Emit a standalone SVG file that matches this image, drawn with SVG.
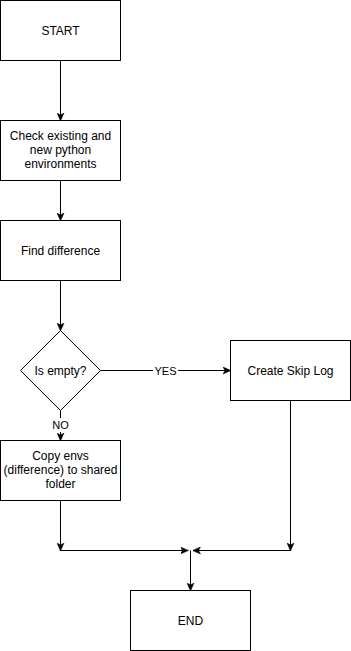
<svg xmlns="http://www.w3.org/2000/svg" width="351" height="651" viewBox="0 0 351 651">
<defs>
<marker id="arr" viewBox="0 0 8 8" refX="7.5" refY="4" markerWidth="8" markerHeight="8" markerUnits="userSpaceOnUse" orient="auto">
<path d="M0,0.5 L8,4 L0,7.5 L2,4 Z" fill="#000" stroke="#000" stroke-width="0.5"/>
</marker>
</defs>
<style>
.box{fill:#fff;stroke:#000;stroke-width:1}
.t{font-family:"Liberation Sans",Arial,Helvetica,sans-serif;font-size:12px;fill:#000;text-anchor:middle}
.e{fill:none;stroke:#000;stroke-width:1}
.lbl{font-family:"Liberation Sans",Arial,Helvetica,sans-serif;font-size:11px;fill:#000;text-anchor:middle}
</style>
<rect width="351" height="651" fill="#fff"/>
<g id="connectors">
<line class="e" x1="60.5" y1="60.5" x2="60.5" y2="120.5" marker-end="url(#arr)"/>
<line class="e" x1="60.5" y1="180.5" x2="60.5" y2="220.5" marker-end="url(#arr)"/>
<line class="e" x1="60.5" y1="280.5" x2="60.5" y2="330.5" marker-end="url(#arr)"/>
<line class="e" x1="60.5" y1="410.5" x2="60.5" y2="440.5" marker-end="url(#arr)"/>
<line class="e" x1="100.5" y1="370.5" x2="230.5" y2="370.5" marker-end="url(#arr)"/>
<line class="e" x1="60.5" y1="500.5" x2="60.5" y2="550.5" marker-end="url(#arr)"/>
<line class="e" x1="290.5" y1="400.5" x2="290.5" y2="550.5" marker-end="url(#arr)"/>
<line class="e" x1="60.5" y1="550.5" x2="188" y2="550.5" marker-end="url(#arr)"/>
<line class="e" x1="290.5" y1="550.5" x2="193" y2="550.5" marker-end="url(#arr)"/>
<line class="e" x1="190.5" y1="550.5" x2="190.5" y2="590.5" marker-end="url(#arr)"/>
<rect x="153" y="363" width="25" height="14" fill="#fff"/>
<text class="lbl" x="165.5" y="374.5">YES</text>
<rect x="51" y="418" width="19" height="14" fill="#fff"/>
<text class="lbl" x="60.5" y="429">NO</text>
</g>
<g id="start">
<rect class="box" x="0.5" y="0.5" width="120" height="60"/>
<text class="t" x="60.5" y="34.5">START</text>
</g>
<g id="check">
<rect class="box" x="0.5" y="120.5" width="120" height="60"/>
<text class="t" x="60.5" y="140">Check existing and</text>
<text class="t" x="60.5" y="154">new python</text>
<text class="t" x="60.5" y="168">environments</text>
</g>
<g id="find">
<rect class="box" x="0.5" y="220.5" width="120" height="60"/>
<text class="t" x="60.5" y="254.5">Find difference</text>
</g>
<g id="decision">
<polygon class="box" points="60.5,330.5 100.5,370.5 60.5,410.5 20.5,370.5"/>
<text class="t" x="60.5" y="374.5">Is empty?</text>
</g>
<g id="skip">
<rect class="box" x="230.5" y="340.5" width="120" height="60"/>
<text class="t" x="290.5" y="374.5">Create Skip Log</text>
</g>
<g id="copy">
<rect class="box" x="0.5" y="440.5" width="120" height="60"/>
<text class="t" x="60.5" y="460">Copy envs</text>
<text class="t" x="60.5" y="474">(difference) to shared</text>
<text class="t" x="60.5" y="488">folder</text>
</g>
<g id="end">
<rect class="box" x="130.5" y="590.5" width="120" height="60"/>
<text class="t" x="190.5" y="624.5">END</text>
</g>
</svg>
